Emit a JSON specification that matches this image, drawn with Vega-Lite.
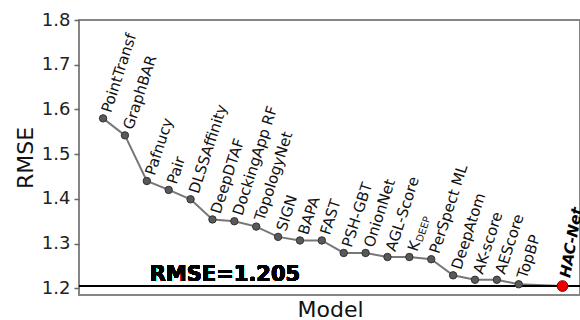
{
  "$schema": "https://vega.github.io/schema/vega-lite/v6.json",
  "autosize": {"type": "none"},
  "padding": {"left": 79, "top": 20, "right": 0, "bottom": 25},
  "width": 501,
  "height": 275,
  "background": "white",
  "config": {
    "font": "DejaVu Sans",
    "view": {"stroke": "#858585", "strokeWidth": 2},
    "axis": {"grid": false}
  },
  "data": {
    "values": [
      {"model": "PointTransf", "label": "PointTransf", "idx": 0, "rmse": 1.580},
      {"model": "GraphBAR", "label": "GraphBAR", "idx": 1, "rmse": 1.542},
      {"model": "Pafnucy", "label": "Pafnucy", "idx": 2, "rmse": 1.440},
      {"model": "Pair", "label": "Pair", "idx": 3, "rmse": 1.420},
      {"model": "DLSSAffinity", "label": "DLSSAffinity", "idx": 4, "rmse": 1.399},
      {"model": "DeepDTAF", "label": "DeepDTAF", "idx": 5, "rmse": 1.354},
      {"model": "DockingApp RF", "label": "DockingApp RF", "idx": 6, "rmse": 1.350},
      {"model": "TopologyNet", "label": "TopologyNet", "idx": 7, "rmse": 1.338},
      {"model": "SIGN", "label": "SIGN", "idx": 8, "rmse": 1.315},
      {"model": "BAPA", "label": "BAPA", "idx": 9, "rmse": 1.307},
      {"model": "FAST", "label": "FAST", "idx": 10, "rmse": 1.307},
      {"model": "PSH-GBT", "label": "PSH-GBT", "idx": 11, "rmse": 1.279},
      {"model": "OnionNet", "label": "OnionNet", "idx": 12, "rmse": 1.279},
      {"model": "AGL-Score", "label": "AGL-Score", "idx": 13, "rmse": 1.270},
      {"model": "KDEEP", "label": "K", "idx": 14, "rmse": 1.270},
      {"model": "PerSpect ML", "label": "PerSpect ML", "idx": 15, "rmse": 1.265},
      {"model": "DeepAtom", "label": "DeepAtom", "idx": 16, "rmse": 1.229},
      {"model": "AK-score", "label": "AK-score", "idx": 17, "rmse": 1.219},
      {"model": "AEScore", "label": "AEScore", "idx": 18, "rmse": 1.219},
      {"model": "TopBP", "label": "TopBP", "idx": 19, "rmse": 1.209},
      {"model": "HAC-Net", "label": "HAC-Net", "idx": 21, "rmse": 1.205}
    ]
  },
  "encoding": {
    "x": {
      "field": "idx", "type": "quantitative",
      "scale": {"domain": [-1.1, 21.8], "nice": false, "zero": false},
      "axis": {"labels": false, "ticks": false, "domain": false, "title": "Model",
               "titleFontSize": 22, "titleFontWeight": "normal", "titleColor": "#111",
               "titleBaseline": "alphabetic", "titleY": 21, "titleX": 251}
    },
    "y": {
      "field": "rmse", "type": "quantitative",
      "scale": {"domain": [1.185, 1.8], "nice": false, "zero": false},
      "axis": {"values": [1.2, 1.3, 1.4, 1.5, 1.6, 1.7, 1.8], "format": ".1f",
               "domain": false, "tickColor": "#666", "tickSize": 5, "tickWidth": 1.5,
               "labelFontSize": 18, "labelColor": "#222", "labelPadding": 4,
               "title": "RMSE", "titleFontSize": 22, "titleFontWeight": "normal",
               "titleColor": "#111", "titleAngle": -90, "titleBaseline": "alphabetic",
               "titleAlign": "center", "titleX": -47, "titleY": 137.5}
    }
  },
  "layer": [
    {
      "mark": {"type": "line", "color": "#777", "strokeWidth": 2}
    },
    {
      "mark": {"type": "rule", "color": "#000", "strokeWidth": 2},
      "encoding": {"x": {"datum": -1.1}, "x2": {"datum": 21.8}, "y": {"datum": 1.205}}
    },
    {
      "transform": [{"filter": "datum.model !== 'HAC-Net'"}],
      "mark": {"type": "point", "filled": true, "size": 55, "color": "#595959", "stroke": "#333", "strokeWidth": 1, "opacity": 1}
    },
    {
      "transform": [{"filter": "datum.model === 'HAC-Net'"}],
      "mark": {"type": "point", "filled": true, "size": 115, "color": "#ee0000", "stroke": "#8b0000", "strokeWidth": 1, "opacity": 1}
    },
    {
      "transform": [{"filter": "datum.model !== 'HAC-Net'"}],
      "mark": {"type": "text", "angle": -72, "align": "left", "baseline": "middle", "dx": 7, "dy": 1, "fontSize": 15, "fill": "#111"},
      "encoding": {"text": {"field": "label"}}
    },
    {
      "transform": [{"filter": "datum.model === 'KDEEP'"}],
      "mark": {"type": "text", "angle": -72, "align": "left", "baseline": "middle", "dx": 17.5, "dy": 5, "fontSize": 10, "fill": "#111"},
      "encoding": {"text": {"value": "DEEP"}}
    },
    {
      "transform": [{"filter": "datum.model === 'HAC-Net'"}],
      "mark": {"type": "text", "angle": -80, "align": "left", "baseline": "middle", "dx": 9, "dy": 1, "fontSize": 15, "fontWeight": "bold", "fontStyle": "italic", "fill": "#000"},
      "encoding": {"text": {"field": "label"}}
    },
    {
      "mark": {"type": "text", "align": "center", "baseline": "alphabetic", "dy": -5, "fontSize": 21, "fontWeight": "bold", "fill": "#000"},
      "encoding": {"x": {"datum": 5.57}, "y": {"datum": 1.205}, "text": {"value": "RMSE=1.205"}}
    }
  ]
}
